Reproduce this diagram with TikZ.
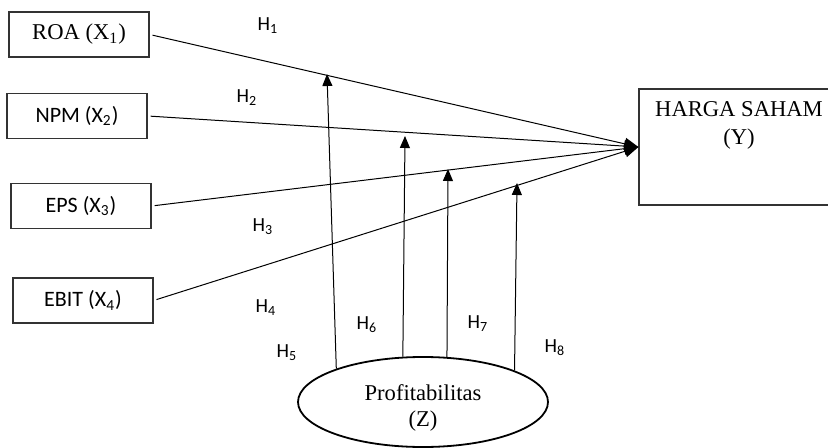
\documentclass[tikz,border=0pt]{standalone}
\usepackage{fontspec}
\setmainfont{Liberation Serif}
\newfontfamily\calib{Carlito}
\usetikzlibrary{arrows.meta,positioning,shapes.geometric}

\tikzset{
  varbox/.style={draw=black!80, line width=0.6pt, minimum width=70pt, minimum height=22.5pt, inner sep=0pt},
  sanslab/.style={font=\calib\fontsize{11}{13}\selectfont},
  hlab/.style={font=\calib\fontsize{10}{12}\selectfont, inner sep=0pt},
  linkline/.style={line width=0.5pt, -{Triangle[length=7pt,width=6pt]}},
  modarrow/.style={line width=0.5pt, -{Triangle[length=6pt,width=5pt]}}
}

\begin{document}
\begin{tikzpicture}[x=0.5pt, y=-0.5pt, every node/.style={font=\fontsize{11.3}{13}\selectfont}]
  \clip (0,0) rectangle (828,448);
  % independent variables
  \node[varbox] (x1) at (79,34.5) {ROA (X\textsubscript{1})};
  \node[varbox,sanslab] (x2) at (77,116) {NPM (X\textsubscript{2})};
  \node[varbox,sanslab] (x3) at (81,206) {EPS (X\textsubscript{3})};
  \node[varbox,sanslab] (x4) at (83,300.5) {EBIT (X\textsubscript{4})};
  % dependent variable
  \node[varbox, minimum width=100pt, minimum height=58pt] (y) at (739,147) {};
  \node[align=center, inner sep=0pt] (ylab) at (739,125) {HARGA SAHAM\\[1pt](Y)};
  % moderating variable
  \node[ellipse, draw, line width=0.9pt, minimum width=125pt, minimum height=45pt, inner sep=0pt] (z) at (423,402) {};
  \node[align=center, inner sep=0pt] (zlab) at (423,408) {Profitabilitas\\(Z)};
  \coordinate (tip) at (y.west);
  \draw[linkline, shorten <=1.5pt] (x1.east) -- (tip);
  \draw[linkline, shorten <=1.5pt] (x2.east) -- (tip);
  \draw[linkline, shorten <=1.5pt] (x3.east) -- (tip);
  \draw[linkline, shorten <=1.5pt] (x4.east) -- (tip);
  % moderation arrows
  \coordinate (m1) at (327,74);
  \coordinate (m2) at (405,136);
  \coordinate (m3) at (448,169);
  \coordinate (m4) at (517,183);
  \draw[modarrow] (z.159.6) -- (m1);
  \draw[modarrow] (z.114.2) -- (m2);
  \draw[modarrow] (z.62.5) -- (m3);
  \draw[modarrow] (z.19.1) -- (m4);
  % hypotheses
  \node[hlab] (h1) at (268,26) {H\textsubscript{1}};
  \node[hlab] (h2) at (247,98) {H\textsubscript{2}};
  \node[hlab] (h3) at (263,227) {H\textsubscript{3}};
  \node[hlab] (h4) at (266,308) {H\textsubscript{4}};
  \node[hlab] (h5) at (287,353) {H\textsubscript{5}};
  \node[hlab] (h6) at (367,325) {H\textsubscript{6}};
  \node[hlab] (h7) at (478,324) {H\textsubscript{7}};
  \node[hlab] (h8) at (555,348) {H\textsubscript{8}};
\end{tikzpicture}
\end{document}
